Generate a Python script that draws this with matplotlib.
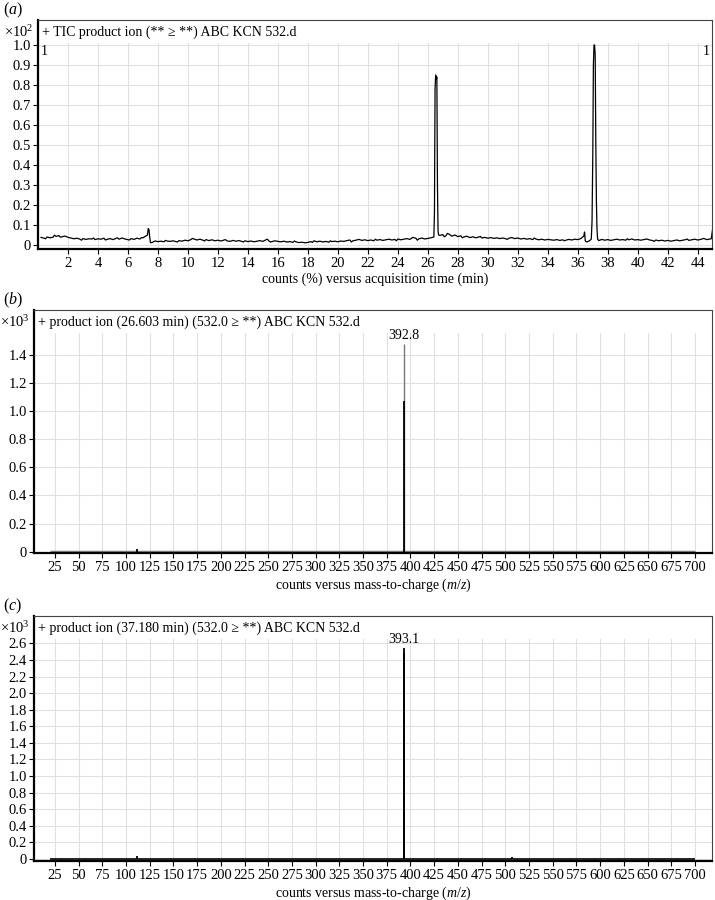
import numpy as np
import matplotlib
matplotlib.use("Agg")
import matplotlib.pyplot as plt
from matplotlib.patches import Rectangle

plt.rcParams['font.family'] = ['Liberation Serif', 'DejaVu Serif']
plt.rcParams['mathtext.fontset'] = 'custom'
plt.rcParams['mathtext.rm'] = 'Liberation Serif'
plt.rcParams['mathtext.it'] = 'Liberation Serif:italic'
plt.rcParams['font.size'] = 10

# ---- panel (a): TIC trace, sampled every 0.2 min ----
tic_t = np.round(np.arange(1, 226) * 0.2, 1)
tic_y = [
    0.038, 0.034, 0.040, 0.036, 0.039, 0.043, 0.047, 0.041, 0.045, 0.038,
    0.035, 0.031, 0.034, 0.029, 0.032, 0.028, 0.031, 0.030, 0.027, 0.031,
    0.029, 0.034, 0.028, 0.032, 0.027, 0.033, 0.029, 0.035, 0.030, 0.027,
    0.032, 0.028, 0.034, 0.030, 0.036, 0.045, 0.078, 0.012, 0.020, 0.017,
    0.019, 0.016, 0.020, 0.018, 0.021, 0.017, 0.022, 0.019, 0.024, 0.021,
    0.027, 0.030, 0.025, 0.029, 0.024, 0.027, 0.022, 0.026, 0.021, 0.024,
    0.020, 0.025, 0.021, 0.018, 0.023, 0.019, 0.022, 0.018, 0.021, 0.017,
    0.020, 0.016, 0.019, 0.022, 0.018, 0.026, 0.020, 0.017, 0.021, 0.018,
    0.016, 0.019, 0.015, 0.017, 0.013, 0.016, 0.012, 0.014, 0.011, 0.013,
    0.017, 0.021, 0.016, 0.019, 0.015, 0.018, 0.014, 0.017, 0.019, 0.016,
    0.020, 0.018, 0.022, 0.025, 0.021, 0.024, 0.028, 0.023, 0.026, 0.022,
    0.025, 0.021, 0.024, 0.027, 0.023, 0.026, 0.029, 0.025, 0.028, 0.030,
    0.026, 0.029, 0.032, 0.028, 0.038, 0.034, 0.031, 0.035, 0.030, 0.033,
    0.036, 0.040, 0.840, 0.048, 0.052, 0.046, 0.055, 0.044, 0.050, 0.042,
    0.046, 0.040, 0.044, 0.037, 0.041, 0.036, 0.040, 0.035, 0.038, 0.034,
    0.037, 0.033, 0.036, 0.032, 0.035, 0.031, 0.034, 0.037, 0.032, 0.035,
    0.030, 0.033, 0.029, 0.032, 0.027, 0.030, 0.026, 0.029, 0.025, 0.028,
    0.026, 0.024, 0.027, 0.023, 0.026, 0.024, 0.028, 0.025, 0.029, 0.027,
    0.032, 0.045, 0.015, 0.022, 0.450, 0.520, 0.022, 0.028, 0.024, 0.027,
    0.023, 0.026, 0.029, 0.025, 0.027, 0.024, 0.026, 0.030, 0.025, 0.027,
    0.024, 0.027, 0.030, 0.025, 0.022, 0.025, 0.021, 0.024, 0.020, 0.023,
    0.019, 0.022, 0.025, 0.021, 0.024, 0.027, 0.023, 0.026, 0.029, 0.025,
    0.028, 0.033, 0.027, 0.030, 0.085,
]
# extra points around the sharp features and some extra jitter
extra_t = [0.5, 1.1, 1.5, 2.9, 3.7, 4.5, 5.3, 6.1, 6.9,
           7.3, 7.35, 7.45, 7.5, 8.5, 9.3, 10.3, 11.1, 12.5, 13.7, 15.3, 15.5,
           17.1, 18.3, 19.5, 20.9, 22.5, 23.9, 25.1, 25.3,
           26.44, 26.48, 26.52, 26.56, 26.64, 26.68, 26.72,
           27.1, 27.3, 28.3, 29.5, 31.3, 33.1, 35.1,
           36.45, 36.5, 36.9, 36.95, 37.04, 37.08, 37.12, 37.16,
           37.24, 37.28, 37.32, 39.3, 41.1, 43.3, 44.9]
extra_y = [0.031, 0.049, 0.039, 0.024, 0.035, 0.025, 0.036, 0.025, 0.037,
           0.050, 0.082, 0.040, 0.012, 0.023, 0.015, 0.033, 0.020, 0.027, 0.015, 0.029, 0.015,
           0.020, 0.013, 0.021, 0.015, 0.029, 0.021, 0.036, 0.024,
           0.16, 0.78, 0.85, 0.83, 0.30, 0.07, 0.05,
           0.041, 0.058, 0.036, 0.043, 0.028, 0.035, 0.021,
           0.065, 0.020, 0.030, 0.12, 0.90, 1.00, 1.00, 0.95,
           0.22, 0.08, 0.03, 0.031, 0.018, 0.030, 0.031]

xt_a = np.arange(2, 45, 2)
yt_a = np.round(np.arange(0, 1.01, 0.1), 1)

# ---- panels (b), (c): product ion spectra ----
mz_ticks = np.arange(25, 701, 25)
base_mz = [20, 700]
base_int = [0, 0]

b_mz = [112.0, 392.8, 393.3]
b_int = [0.015, 1.48, 1.07]
b_col = ['black', '#777777', 'black']
b_peak = 392.8
b_peak_int = 1.48
yt_b = np.round(np.arange(0, 1.41, 0.2), 1)

c_mz = [112.0, 393.1, 393.3, 507.0]
c_int = [0.04, 2.54, 2.48, 0.02]
c_peak = 393.1
c_peak_int = 2.54
yt_c = np.round(np.arange(0, 2.61, 0.2), 1)

W, H = 715, 900
fig = plt.figure(figsize=(W / 100, H / 100), dpi=100)


def frame(l, t, r, b):
    ax = fig.add_axes([l / W, 1 - b / H, (r - l) / W, (b - t) / H])
    ax.set_axisbelow(True)
    ax.grid(True, color='#e0e0e0', lw=0.8)
    for s in ['left', 'bottom']:
        ax.spines[s].set_linewidth(1.6)
    for s in ['top', 'right']:
        ax.spines[s].set_linewidth(0.8)
        ax.spines[s].set_color('#444444')
    ax.tick_params(direction='out', length=3.5, width=0.8, pad=1.5, labelsize=10.5)
    ax.tick_params(axis='x', pad=2.5)
    hf = 23 / (b - t)
    ax.add_patch(Rectangle((0, 1 - hf), 1, hf, transform=ax.transAxes,
                           facecolor='white', edgecolor='none', zorder=1))
    return ax


def fmt(v):
    return '0' if v == 0 else '%.1f' % v


def header(ax, text, exp, letter):
    ax.annotate(text, (0, 1), xycoords='axes fraction', xytext=(3, -9),
                textcoords='offset points', va='center', ha='left', fontsize=10, zorder=3)
    ax.annotate('×10$^{%d}$' % exp, (0, 1), xycoords='axes fraction', xytext=(-3, -9),
                textcoords='offset points', va='center', ha='right', fontsize=10.5)
    ax.annotate('(' + '$' + letter + '$' + ')', (0, 1), xycoords='axes fraction',
                xytext=(-ax.get_position().x0 * W * 0.72 + 2, 7),
                textcoords='offset points', va='center', ha='left', fontsize=11.5)


# (a)
ax = frame(38, 20, 712, 249)
t_all = np.concatenate([tic_t, extra_t])
y_all = np.concatenate([tic_y, extra_y])
order = np.argsort(t_all)
ax.plot(t_all[order], y_all[order], color='black', lw=0.9, zorder=2)
ax.set_xlim(0, 44.95)
ax.set_ylim(-0.02, 1.125)
ax.set_xticks(xt_a)
ax.set_yticks(yt_a)
ax.set_yticklabels([fmt(v) for v in yt_a])
ax.set_xlabel('counts (%) versus acquisition time (min)', fontsize=10, labelpad=1.5)
header(ax, '+ TIC product ion (** ≥ **) ABC KCN 532.d', 2, 'a')
ax.text(0.004, 0.965, '1', transform=ax.get_yaxis_transform(), va='center', ha='left', fontsize=10)
ax.text(0.996, 0.965, '1', transform=ax.get_yaxis_transform(), va='center', ha='right', fontsize=10)

# (b)
ax = frame(34, 310, 712, 553)
ax.plot(base_mz, base_int, color='#808080', lw=2.5, zorder=2, solid_capstyle='butt')
for m, v, c in zip(b_mz, b_int, b_col):
    ax.vlines(m, 0, v, color=c, lw=1.3 if c == 'black' else 1.0, zorder=2)
ax.annotate('392.8', (b_peak, b_peak_int), xytext=(0, 1), textcoords='offset points',
            ha='center', va='bottom', fontsize=10, zorder=3)
ax.set_xlim(3, 718)
ax.set_ylim(-0.01, 1.72)
ax.set_xticks(mz_ticks)
ax.set_yticks(yt_b)
ax.set_yticklabels([fmt(v) for v in yt_b])
ax.set_xlabel('counts versus mass-to-charge ($m$/$z$)', fontsize=10, labelpad=1.5)
header(ax, '+ product ion (26.603 min) (532.0 ≥ **) ABC KCN 532.d', 3, 'b')

# (c)
ax = frame(34, 616, 712, 861)
ax.plot(base_mz, base_int, color='black', lw=1.2, zorder=2, solid_capstyle='butt')
for m, v in zip(c_mz, c_int):
    ax.vlines(m, 0, v, color='black', lw=1.3, zorder=2)
ax.annotate('393.1', (c_peak, c_peak_int), xytext=(0, 1.5), textcoords='offset points',
            ha='center', va='bottom', fontsize=10, zorder=3)
ax.set_xlim(3, 718)
ax.set_ylim(-0.025, 2.93)
ax.set_xticks(mz_ticks)
ax.set_yticks(yt_c)
ax.set_yticklabels([fmt(v) for v in yt_c])
ax.set_xlabel('counts versus mass-to-charge ($m$/$z$)', fontsize=10, labelpad=1.5)
header(ax, '+ product ion (37.180 min) (532.0 ≥ **) ABC KCN 532.d', 3, 'c')

fig.savefig('out.png', dpi=100)
